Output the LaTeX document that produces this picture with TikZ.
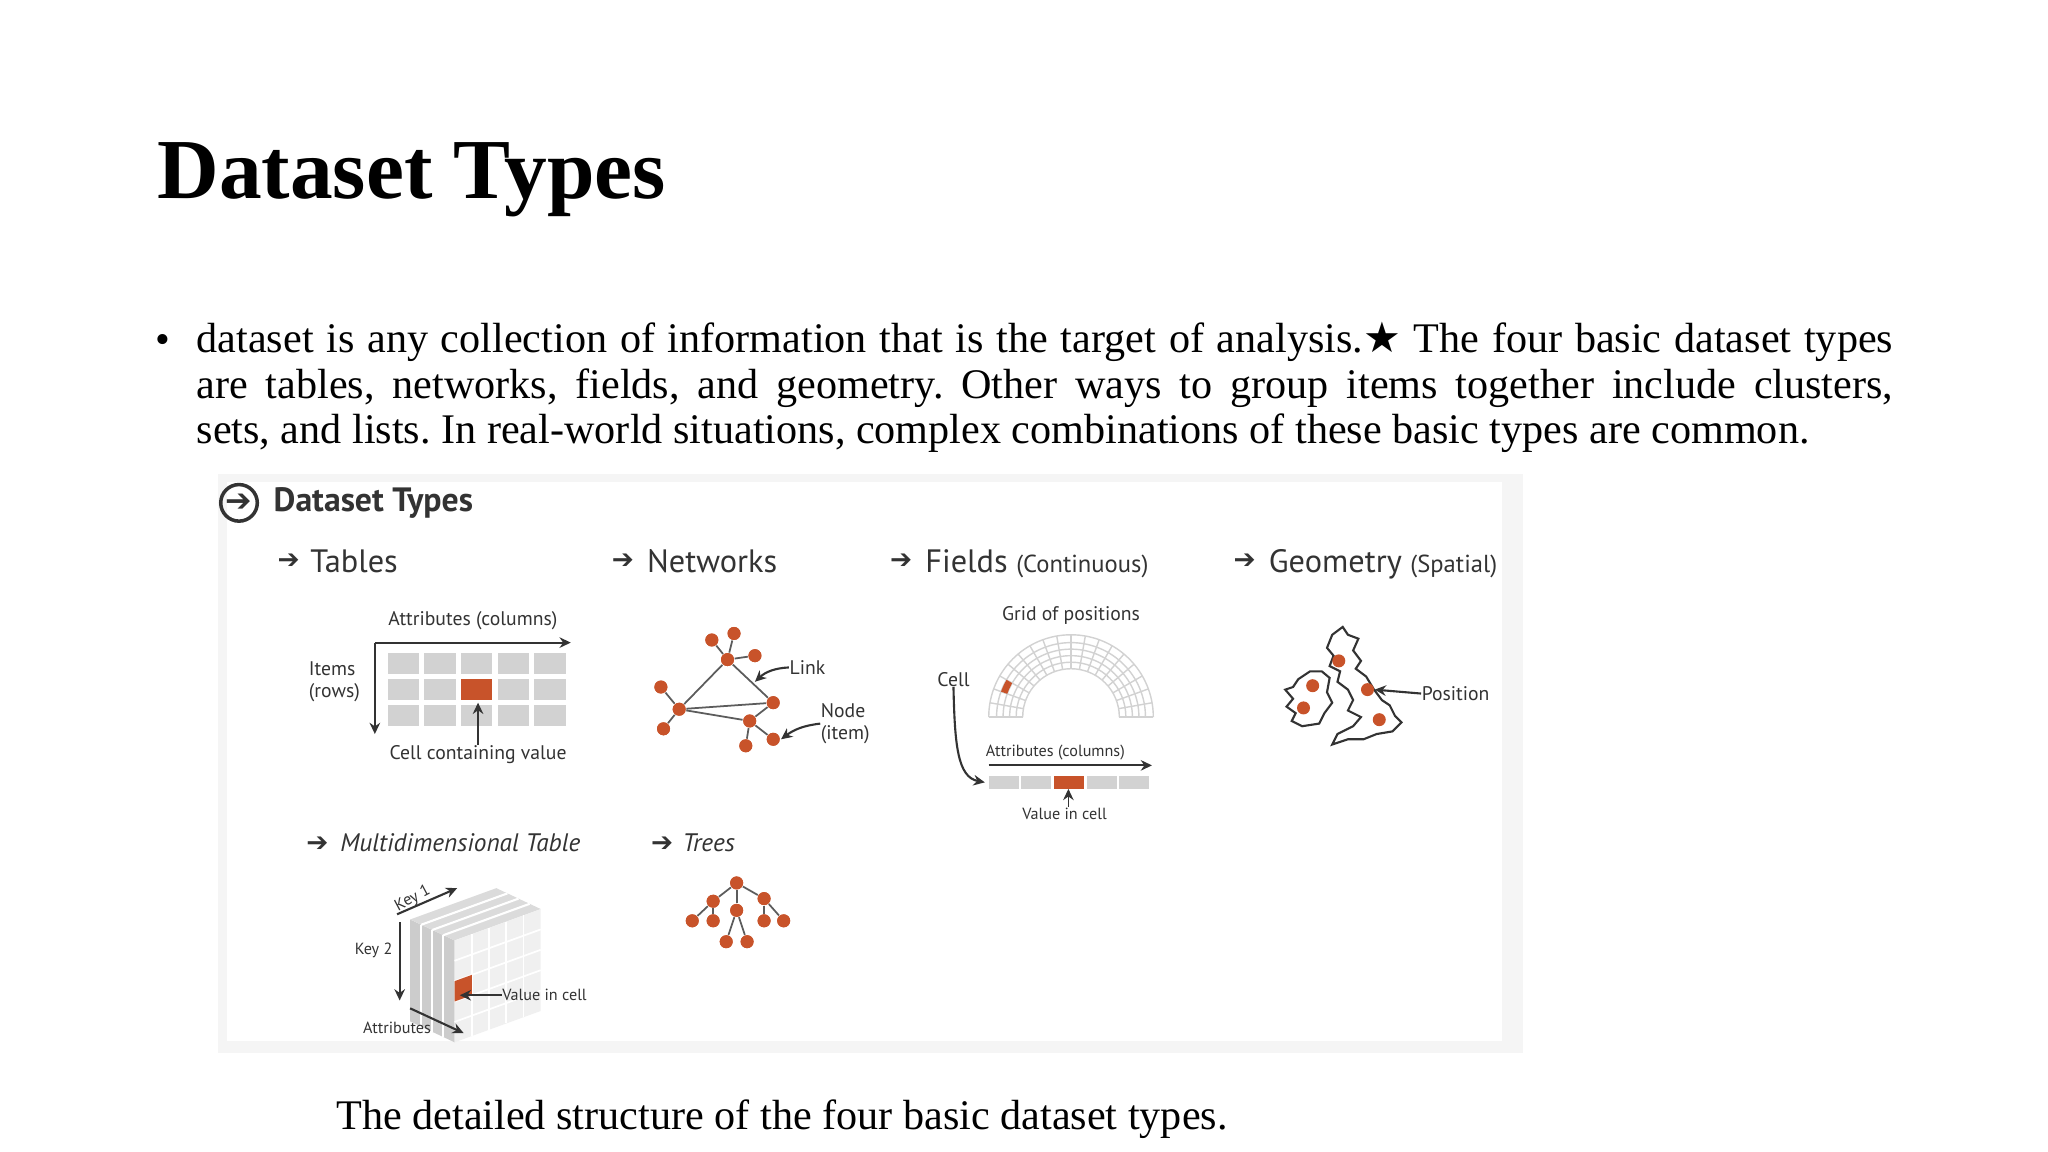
\documentclass[tikz,border=0pt]{standalone}
\usepackage{fontspec}
\setmainfont{Liberation Serif}
\newfontfamily\ff{PT Sans}
\newfontfamily\symf{DejaVu Sans}
\usetikzlibrary{calc,arrows.meta}
\definecolor{rust}{HTML}{C8532A}
\definecolor{txt}{HTML}{333333}
\definecolor{cellg}{HTML}{D2D2D2}
\frenchspacing
\begin{document}
\begin{tikzpicture}[x=0.01306cm,y=0.01306cm,
  lbl/.style={font=\ff\fontsize{5.6}{6.4}\selectfont,text=txt,inner sep=0},
  slbl/.style={font=\ff\fontsize{4.6}{5.4}\selectfont,text=txt,inner sep=0},
  hd/.style={font=\ff\fontsize{9.2}{10}\selectfont,text=txt,anchor=base west,inner sep=0},
  harr/.style={font=\symf\fontsize{7.5}{8}\selectfont,text=txt,inner sep=0},
  arr/.style={-{Stealth[length=3.2pt,width=3pt]},line width=0.6pt,draw=txt},
  edge/.style={line width=0.5pt,draw=txt!80},
  dot/.style={circle,fill=rust,inner sep=0,minimum size=3.7pt}]
\useasboundingbox (0,0) rectangle (1568,-882);
% title
\node[anchor=base west,inner sep=0,font=\bfseries\fontsize{24.3}{28}\selectfont] (title) at (120,-152) {Dataset Types};
\node[inner sep=0,font=\fontsize{12}{13}\selectfont] (bul) at (125,-263) {•};
\node[anchor=north west,inner sep=0,text width=1299*0.01306cm,align=justify,font=\fontsize{12}{13}\selectfont] (body) at (150,-246)
 {dataset is any collection of information that is the target of analysis.{\symf ★} The four basic dataset types\linebreak are tables, networks, fields, and geometry. Other ways to group items together include clusters,\linebreak sets, and lists. In real-world situations, complex combinations of these basic types are common.};
\node[anchor=base west,inner sep=0,font=\fontsize{12}{13}\selectfont] (cap) at (257,-865) {The detailed structure of the four basic dataset types.};
% panel
\fill[gray!8] (167,-363) rectangle (1166,-806);
\fill[white] (174,-369) rectangle (1150,-797);
\draw[line width=1pt,txt] (183,-385) circle (14);
\node[harr,font=\symf\fontsize{9}{9}\selectfont] (ca) at (183,-385) {➔};
\node[hd,font=\ff\bfseries\fontsize{9.6}{11}\selectfont] (dt) at (209,-392) {Dataset Types};
\node[harr] (a1) at (221,-430) {➔}; \node[hd] (h1) at (237,-438) {Tables};
\node[harr] (a2) at (477,-430) {➔}; \node[hd] (h2) at (495,-438) {Networks};
\node[harr] (a3) at (690,-430) {➔}; \node[hd] (h3) at (708,-438) {Fields {\fontsize{7}{8}\selectfont(Continuous)}};
\node[harr] (a4) at (953,-430) {➔}; \node[hd] (h4) at (971,-438) {Geometry {\fontsize{7}{8}\selectfont(Spatial)}};
\node[harr] (a5) at (243,-646) {➔}; \node[hd,font=\ff\itshape\fontsize{7.2}{9}\selectfont] (h5) at (260,-652) {Multidimensional Table};
\node[harr] (a6) at (507,-646) {➔}; \node[hd,font=\ff\itshape\fontsize{7.2}{9}\selectfont] (h6) at (522,-652) {Trees};
% ---- tables
\node[lbl] (tattr) at (362,-475) {Attributes (columns)};
\coordinate (tc) at (287,-492); \coordinate (tr) at (437,-492); \coordinate (tb) at (287,-562);
\draw[arr] (tc) -- (tr); \draw[arr] (tc) -- (tb);
\node[lbl,align=left,anchor=east] (titems) at (276,-522) {Items\\(rows)};
\foreach \c in {0,...,4} \foreach \r in {0,...,2}
  \fill[cellg] (297+\c*28,-500-\r*20) rectangle ++(24,-16);
\fill[rust] (353,-520) rectangle ++(24,-16);
\node[lbl] (tcell) at (366,-578) {Cell containing value};
\draw[arr] (tcell.north) -- (366,-538);
% ---- networks
\node[dot] (nt) at (557,-505) {}; \node[dot] (n1) at (545,-490) {}; \node[dot] (n2) at (562,-485) {}; \node[dot] (n3) at (578,-502) {};
\node[dot] (nl) at (520,-543) {}; \node[dot] (n4) at (506,-526) {}; \node[dot] (n5) at (508,-558) {};
\node[dot] (nr) at (592,-538) {}; \node[dot] (nb) at (574,-552) {};
\node[dot] (n6) at (571,-571) {}; \node[dot] (n7) at (592,-566) {};
\foreach \a/\b in {nt/n1,nt/n2,nt/n3,nt/nl,nt/nr,nl/n4,nl/n5,nl/nr,nl/nb,nb/nr,nb/n6,nb/n7}
  \draw[edge] (\a) -- (\b);
\foreach \n in {nt,n1,n2,n3,nl,n4,n5,nr,nb,n6,n7} \node[dot] at (\n) {};
\node[lbl,anchor=west] (link) at (604,-511) {Link};
\draw[arr] (link.west) to[bend right=20] (578,-522);
\node[lbl,align=left,anchor=west] (nodel) at (628,-554) {Node\\(item)};
\draw[arr] (nodel.west) to[bend right=15] (598,-566);
% ---- fields
\node[lbl] (gp) at (820,-471) {Grid of positions};
\coordinate (fc) at (820,-549);
\foreach \r in {37,42,47,52,57,63} \draw[gray!35,line width=0.4pt] ($(fc)+(\r,0)$) arc[start angle=0,end angle=180,radius=\r];
\foreach \t in {0,10,...,180} \draw[gray!35,line width=0.4pt] ($(fc)+(\t:37)$) -- ($(fc)+(\t:63)$);
\fill[rust] ($(fc)+(150:52)$) -- ($(fc)+(150:57)$) arc[start angle=150,end angle=160,radius=57] -- ($(fc)+(160:52)$) arc[start angle=160,end angle=150,radius=52] -- cycle;
\node[lbl] (fcell) at (730,-520) {Cell};
\coordinate (fbar) at (754,-599);
\draw[arr] (fcell.south) .. controls (731,-570) and (733,-595) .. (fbar);
\node[slbl] (fattr) at (808,-576) {Attributes (columns)};
\draw[arr] (757,-586) -- (882,-586);
\foreach \c in {0,...,4} \fill[cellg] (757+\c*25,-594) rectangle ++(23,-10);
\fill[rust] (807,-594) rectangle ++(23,-10);
\node[slbl] (fval) at (815,-623) {Value in cell};
\draw[arr,line width=0.4pt] (fval.north) ++(3,0) -- (818,-604);
% ---- geometry
\draw[txt,line width=0.6pt,fill=white] (1020,-486) -- (1028,-480) -- (1032,-486) -- (1040,-489) -- (1036,-498) -- (1042,-506) -- (1038,-512) -- (1046,-518) -- (1052,-528) -- (1058,-536) -- (1064,-540) -- (1068,-548) -- (1073,-553) -- (1066,-560) -- (1054,-562) -- (1044,-566) -- (1032,-566) -- (1020,-570) -- (1024,-562) -- (1036,-556) -- (1042,-549) -- (1032,-544) -- (1036,-536) -- (1032,-528) -- (1024,-522) -- (1026,-514) -- (1018,-510) -- (1021,-502) -- (1016,-496) -- cycle;
\draw[txt,line width=0.6pt,fill=white] (994,-520) -- (1003,-514) -- (1012,-514) -- (1018,-519) -- (1016,-530) -- (1020,-538) -- (1014,-546) -- (1010,-554) -- (997,-556) -- (989,-552) -- (992,-546) -- (985,-541) -- (990,-535) -- (984,-528) -- (990,-526) -- cycle;
\node[dot] (g1) at (1025,-506) {}; \node[dot] (g2) at (1005,-525) {}; \node[dot] (g3) at (998,-542) {};
\node[dot] (g4) at (1047,-528) {}; \node[dot] (g5) at (1056,-551) {};
\node[lbl,anchor=west] (pos) at (1088,-531) {Position};
\draw[arr] (pos.west) -- (g4.east);
% ---- cube
\coordinate (O) at (314,-704); \coordinate (va) at (34,-16); \coordinate (vu) at (66,24); \coordinate (vh) at (0,-78);
\fill[gray!40] (O) -- ($(O)+(va)$) -- ($(O)+(va)+(vh)$) -- ($(O)+(vh)$) -- cycle;
\fill[gray!28] (O) -- ($(O)+(vu)$) -- ($(O)+(vu)+(va)$) -- ($(O)+(va)$) -- cycle;
\fill[gray!12] ($(O)+(va)$) -- ($(O)+(va)+(vu)$) -- ($(O)+(va)+(vu)+(vh)$) -- ($(O)+(va)+(vh)$) -- cycle;
\foreach \k in {0.25,0.5,0.75} {
  \draw[white,line width=0.6pt] ($(O)+\k*(va)$) -- ($(O)+\k*(va)+(vh)$);
  \draw[white,line width=0.6pt] ($(O)+\k*(va)$) -- ($(O)+\k*(va)+(vu)$);}
\foreach \k in {0.2,0.4,0.6,0.8} {
  \draw[white,line width=0.5pt] ($(O)+(va)+\k*(vu)$) -- ($(O)+(va)+\k*(vu)+(vh)$);
  \draw[white,line width=0.5pt] ($(O)+(va)+\k*(vh)$) -- ($(O)+(va)+\k*(vh)+(vu)$);}
\fill[rust] ($(O)+(va)+0.4*(vh)$) -- ($(O)+(va)+0.4*(vh)+0.2*(vu)$) -- ($(O)+(va)+0.6*(vh)+0.2*(vu)$) -- ($(O)+(va)+0.6*(vh)$) -- cycle;
\node[slbl,rotate=28] (k1) at (316,-688) {Key 1};
\draw[arr] (304,-700) -- (350,-680);
\node[slbl] (k2) at (286,-728) {Key 2};
\draw[arr] (306,-706) -- (306,-766);
\node[slbl] (katt) at (304,-787) {Attributes};
\draw[arr] (314,-772) -- (355,-791);
\node[slbl,anchor=west] (kval) at (384,-762) {Value in cell};
\draw[arr] (kval.west) -- (352,-762);
% ---- trees
\node[dot] (r0) at (564,-676) {};
\node[dot] (r1) at (546,-690) {}; \node[dot] (r2) at (564,-697) {}; \node[dot] (r3) at (585,-688) {};
\node[dot] (l1) at (530,-705) {}; \node[dot] (l2) at (546,-705) {};
\node[dot] (l3) at (556,-721) {}; \node[dot] (l4) at (572,-721) {};
\node[dot] (l5) at (585,-705) {}; \node[dot] (l6) at (600,-705) {};
\foreach \a/\b in {r0/r1,r0/r2,r0/r3,r1/l1,r1/l2,r2/l3,r2/l4,r3/l5,r3/l6}
  \draw[edge] (\a) -- (\b);
\foreach \n in {r0,r1,r2,r3,l1,l2,l3,l4,l5,l6} \node[dot] at (\n) {};
\end{tikzpicture}
\end{document}
